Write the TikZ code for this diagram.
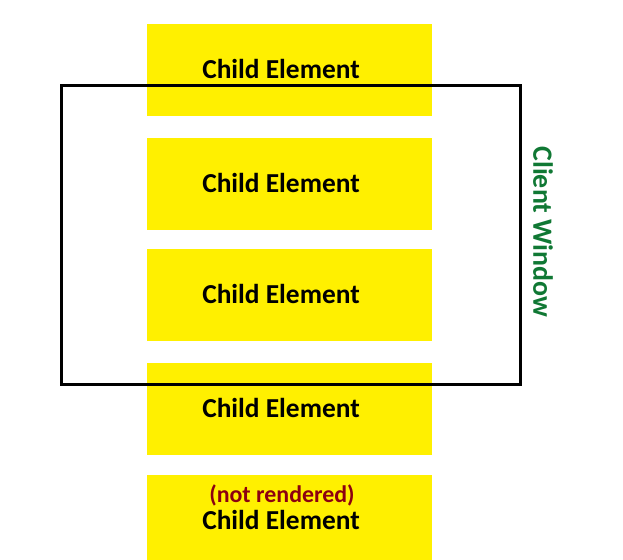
\documentclass[tikz,border=0pt]{standalone}
\usepackage{fontspec}
\setmainfont{Carlito}
\definecolor{boxyellow}{RGB}{255,240,0}
\definecolor{winegreen}{RGB}{16,120,52}
\definecolor{darkred}{RGB}{140,0,16}
\tikzset{
  child/.style={fill=boxyellow,minimum width=285bp,minimum height=92bp,inner sep=0pt},
  lbl/.style={font=\fontsize{27.5}{30}\selectfont\bfseries,inner sep=0pt}
}
\begin{document}
\begin{tikzpicture}[x=1bp,y=-1bp]
  \useasboundingbox (0,0) rectangle (623,560);
  \begin{scope}
  \clip (0,0) rectangle (623,560);
  \node[child] (c1) at (289.5,70) {};
  \node[child] (c2) at (289.5,184) {};
  \node[child] (c3) at (289.5,295) {};
  \node[child] (c4) at (289.5,409) {};
  \node[child] (c5) at (289.5,521) {};
  \end{scope}

  \node[lbl] (t1) at (281,69) {Child Element};
  \node[lbl] (t2) at (281,183) {Child Element};
  \node[lbl] (t3) at (281,294) {Child Element};
  \node[lbl] (t4) at (281,408) {Child Element};
  \node[lbl] (t5) at (281,520) {Child Element};
  \node[lbl,text=darkred,font=\fontsize{24}{26}\selectfont\bfseries] (nr) at (282,495) {(not rendered)};

  \draw[line width=3bp] (61.5,85.5) rectangle (520.5,384.5);
  \node[lbl,text=winegreen,rotate=-90,font=\fontsize{28}{30}\selectfont\bfseries] (cw) at (543,232) {Client Window};
\end{tikzpicture}
\end{document}
